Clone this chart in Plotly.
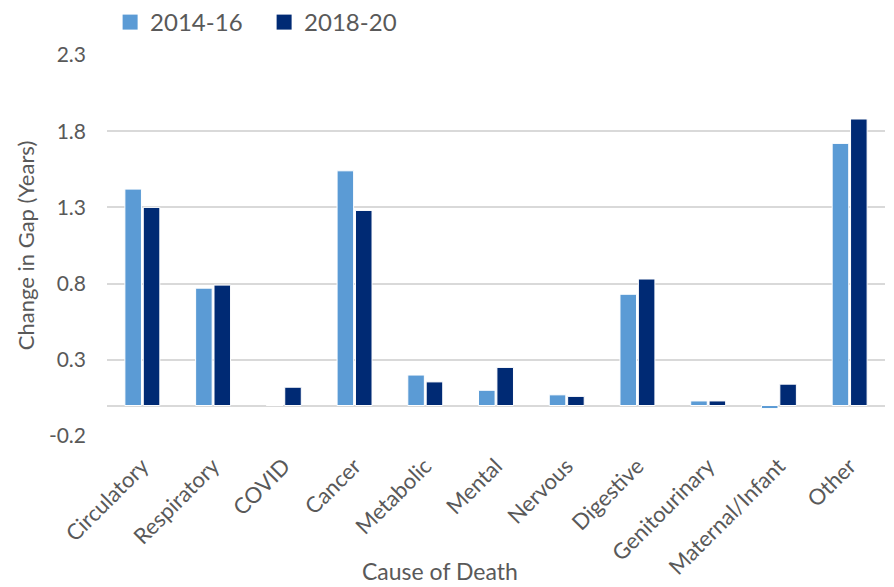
import plotly.graph_objects as go

categories = ["Circulatory", "Respiratory", "COVID", "Cancer", "Metabolic", "Mental",
              "Nervous", "Digestive", "Genitourinary", "Maternal/Infant", "Other"]
gap_2014_16 = [1.42, 0.77, 0.0, 1.54, 0.20, 0.10, 0.07, 0.73, 0.03, -0.02, 1.72]
gap_2018_20 = [1.30, 0.79, 0.12, 1.28, 0.155, 0.25, 0.06, 0.83, 0.03, 0.14, 1.88]
y_ticks = [-0.2, 0.3, 0.8, 1.3, 1.8, 2.3]
series = [("2014-16", gap_2014_16, "#5B9BD5"), ("2018-20", gap_2018_20, "#002A74")]

FONT = "Lato, 'Open Sans', sans-serif"
GREY = "#595959"

fig = go.Figure()
for name, values, color in series:
    fig.add_trace(go.Bar(x=categories, y=values, name=name, showlegend=False,
                         marker=dict(color=color, line=dict(color="white", width=1))))
# square legend swatches
for name, values, color in series:
    fig.add_trace(go.Scatter(x=[None], y=[None], mode="markers", name=name,
                             marker=dict(symbol="square", size=15, color=color)))

fig.update_layout(
    width=894, height=587,
    margin=dict(l=107, r=9, t=55, b=151, autoexpand=False),
    plot_bgcolor="white", paper_bgcolor="white",
    barmode="group", bargap=0.48, bargroupgap=0.1,
    font=dict(family=FONT, color=GREY),
    legend=dict(orientation="h", x=0.004, y=1.0, xref="paper", yref="container",
                xanchor="left", yanchor="top", font=dict(size=24, color=GREY),
                itemwidth=30, itemsizing="trace", tracegroupgap=0, entrywidth=109),
    showlegend=True,
    annotations=[dict(text="Cause of Death", xref="paper", yref="paper",
                      x=0.428, y=-0.355, xanchor="center", yanchor="middle",
                      showarrow=False, font=dict(size=23, color=GREY))],
)
fig.update_yaxes(
    range=[-0.2, 2.3], tickvals=y_ticks, ticktext=[f"{v:.1f}" for v in y_ticks],
    showgrid=True, gridcolor="#D9D9D9", gridwidth=2,
    zeroline=True, zerolinecolor="#D9D9D9", zerolinewidth=2,
    tickfont=dict(size=21, color=GREY), ticks="", ticklabelstandoff=20,
    title=dict(text="Change in Gap (Years)", font=dict(size=22, color=GREY), standoff=8),
)
fig.update_xaxes(
    tickangle=-45, tickfont=dict(size=22, color=GREY), showline=False, ticks="",
    ticklabelstandoff=12,
)

fig.write_html("out.html")
